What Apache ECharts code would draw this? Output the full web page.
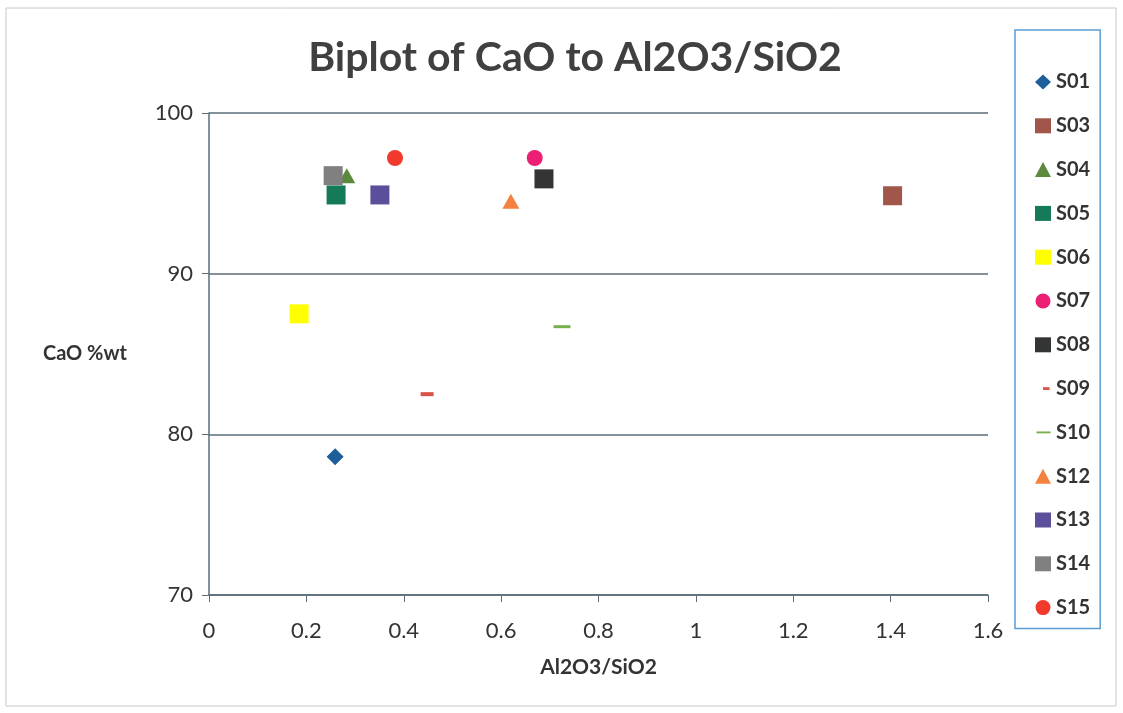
<!DOCTYPE html>
<html>
<head>
<meta charset="utf-8">
<script src="https://cdn.jsdelivr.net/npm/echarts@6/dist/echarts.min.js"></script>
<style>
  html, body { margin: 0; padding: 0; background: #ffffff; }
  #chart { width: 1123px; height: 713px; }
</style>
</head>
<body>
<div id="chart"></div>
<script>
// Sample names, Al2O3/SiO2 ratios and CaO contents
const samples = ['S01', 'S03', 'S04', 'S05', 'S06', 'S07', 'S08', 'S09', 'S10', 'S12', 'S13', 'S14', 'S15'];
const ratioValues = [0.259, 1.404, 0.283, 0.261, 0.185, 0.669, 0.688, 0.448, 0.725, 0.620, 0.351, 0.255, 0.382];
const caoValues = [78.6, 94.85, 96.1, 94.9, 87.5, 97.2, 95.9, 82.5, 86.7, 94.5, 94.9, 96.1, 97.2];

// Marker appearance for each sample
const markerShapes = ['diamond', 'rect', 'triangle', 'rect', 'rect', 'circle', 'rect', 'rect', 'rect', 'triangle', 'rect', 'rect', 'circle'];
const markerSizes = [[17, 17], [19, 19], [17, 15], [19, 19], [19, 19], [16, 16], [19, 19], [13, 4], [17, 3], [17, 15], [19, 19], [19, 19], [16, 16]];
const markerColors = ['#1f5f99', '#a0574a', '#5c8a3c', '#157a5a', '#ffff00', '#ec1f74', '#333535', '#d9534a', '#77b04c', '#f58140', '#5b4f9b', '#808080', '#f2392e'];

// Legend icons: dash samples get thin bars padded inside a fixed box
const legendIcons = ['diamond', 'rect', 'triangle', 'rect', 'rect', 'circle', 'rect',
  'path://M0,0M16,16M8,6.5H15V9.5H8Z', 'path://M0,0M16,16M1,7H16V9H1Z', 'triangle', 'rect', 'rect', 'circle'];

// Axis ticks
const xTicks = { min: 0, max: 1.6, interval: 0.2 };
const yTicks = { min: 70, max: 100, interval: 10 };

const chart = echarts.init(document.getElementById('chart'));
const fontFamily = 'Lato, "Open Sans", sans-serif';
const axisColor = '#5a6d78';

const series = samples.map((name, i) => ({
  name: name,
  type: 'scatter',
  symbol: markerShapes[i],
  symbolSize: markerSizes[i],
  itemStyle: { color: markerColors[i], opacity: 1 },
  data: [[ratioValues[i], caoValues[i]]]
}));

chart.setOption({
  backgroundColor: '#ffffff',
  animation: false,
  title: {
    text: 'Biplot of CaO to Al2O3/SiO2',
    left: 570,
    textAlign: 'center',
    top: 32,
    textStyle: { fontFamily: fontFamily, fontSize: 41, fontWeight: 'bold', color: '#404040' }
  },
  grid: { left: 209, right: 135, top: 113, bottom: 118 },
  xAxis: {
    type: 'value',
    min: xTicks.min, max: xTicks.max, interval: xTicks.interval,
    name: 'Al2O3/SiO2',
    nameLocation: 'middle',
    nameGap: 62,
    nameTextStyle: { fontFamily: fontFamily, fontSize: 21, fontWeight: 'bold', color: '#333333' },
    axisLine: { show: true, lineStyle: { color: axisColor, width: 1.5 } },
    axisTick: { show: true, length: 7, lineStyle: { color: axisColor } },
    axisLabel: { fontFamily: fontFamily, fontSize: 22, color: '#333333', margin: 25 },
    splitLine: { show: false }
  },
  yAxis: {
    type: 'value',
    min: yTicks.min, max: yTicks.max, interval: yTicks.interval,
    name: 'CaO %wt',
    nameLocation: 'middle',
    nameRotate: 0,
    nameGap: 82,
    nameTextStyle: { fontFamily: fontFamily, fontSize: 20, fontWeight: 'bold', color: '#333333' },
    axisLine: { show: true, lineStyle: { color: axisColor, width: 1.5 } },
    axisTick: { show: true, length: 7, lineStyle: { color: axisColor } },
    axisLabel: { fontFamily: fontFamily, fontSize: 22, color: '#333333', margin: 16 },
    splitLine: { show: true, lineStyle: { color: axisColor, width: 1.5 } }
  },
  legend: {
    orient: 'vertical',
    left: 1015,
    top: 30,
    width: 102,
    padding: [42, 10, 11, 20],
    borderColor: '#5b9bd5',
    borderWidth: 1.5,
    itemGap: 23.8,
    itemWidth: 16,
    itemHeight: 15,
    textStyle: { fontFamily: fontFamily, fontSize: 20, fontWeight: 'bold', color: '#333333', lineHeight: 20 },
    data: samples.map((name, i) => ({
      name: name,
      icon: legendIcons[i],
      itemStyle: { color: markerColors[i] }
    }))
  },
  graphic: [{
    type: 'rect',
    shape: { x: 6, y: 8, width: 1110, height: 698 },
    style: { fill: 'none', stroke: '#c8c8c8', lineWidth: 1 },
    silent: true
  }],
  series: series
});
</script>
</body>
</html>
